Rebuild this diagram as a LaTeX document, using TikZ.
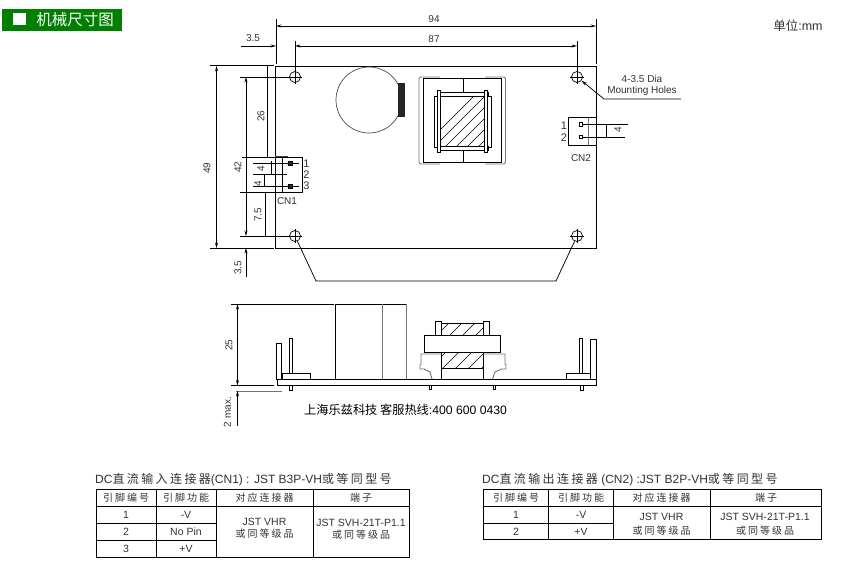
\documentclass[tikz,border=0pt]{standalone}
\usepackage{fontspec}
\setmainfont{Liberation Sans}
\newfontfamily\cn{Noto Sans CJK SC}
\newfontfamily\cnw[LetterSpace=20]{Noto Sans CJK SC}
\usetikzlibrary{arrows.meta, calc, positioning}
\definecolor{titlegreen}{RGB}{0,128,0}
\tikzset{
    part/.style={draw=black, line width=0.9pt},
    soft/.style={draw=black!55, line width=0.9pt},
    dimline/.style={draw=black, line width=0.75pt},
    dimarrow/.style={dimline, {Stealth[length=5.5pt,width=3pt]}-{Stealth[length=5.5pt,width=3pt]}},
    hole/.style={circle, draw=black, line width=0.7pt, minimum size=11pt, inner sep=0pt},
    pin/.style={draw=black, fill=black!85, line width=0.4pt, minimum size=4pt, inner sep=0pt},
    pinopen/.style={draw=black, fill=white, line width=0.8pt, minimum size=3.5pt, inner sep=0pt},
    txt/.style={inner sep=0pt, text=black!80, font=\fontsize{10}{10}\selectfont},
    pinno/.style={txt, font=\fontsize{11}{11}\selectfont},
    cell/.style={txt, font=\fontsize{10.5}{11}\selectfont},
    cellcn/.style={txt, font=\fontsize{10}{11}\cnw},
    caption/.style={txt, anchor=west, font=\fontsize{12}{12}\selectfont}
}
\begin{document}
\begin{tikzpicture}[x=1pt, y=-1pt]
    \useasboundingbox[fill=white] (0, 0) rectangle (846, 573);
    % heading
    \fill[titlegreen] (2, 9) rectangle (122, 31);
    \fill[white] (13, 13) rectangle (26, 25);
    \node[inner sep=0pt, text=white, font=\fontsize{15.5}{15}\cn] (head) at (75, 20) {机械尺寸图};
    \node[txt, font=\fontsize{12.5}{12}\selectfont] (unit) at (798, 26) {{\cn 单位}:mm};

    % top view
    \draw[part] (275, 66) rectangle (596, 248);
    \node[hole] (hTL) at (295, 77) {};
    \node[hole] (hTR) at (577, 77) {};
    \node[hole] (hBL) at (295, 236) {};
    \node[hole] (hBR) at (577, 236) {};
    \foreach \h in {hTL, hTR, hBL, hBR} {
        \draw[dimline] ($(\h)+(-7, 0)$) -- ($(\h)+(7, 0)$);
        \draw[dimline] ($(\h)+(0, -7)$) -- ($(\h)+(0, 7)$);
    }
    \draw[line width=0.7pt, draw=black!70] (369, 100) circle (33);
    \fill[black!85] (398, 83) rectangle (405, 117);

    % transformer, top
    \draw[soft, rounded corners=1.5pt] (440, 77) -- (419, 77) -- (419, 164) -- (440, 164);
    \draw[soft, rounded corners=1.5pt] (485, 77) -- (505.5, 77) -- (505.5, 164) -- (485, 164);
    \draw[part] (423, 78.5) rectangle (501, 162);
    \draw[part] (463, 78.5) -- (463, 92) (463, 150) -- (463, 162);
    \begin{scope}
        \clip (440, 96) rectangle (484.5, 146.5);
        \foreach \i in {0, 11, ..., 110}
            \draw[line width=0.45pt] (420+\i, 150) -- (420+\i+60, 90);
    \end{scope}
    \draw[part, fill=white] (434, 96) -- (440, 96) -- (440, 147) -- (434, 147) -- cycle;
    \draw[part, fill=white] (484.5, 96) -- (491, 96) -- (491, 147) -- (484.5, 147) -- cycle;
    \draw[part] (437, 92) rectangle (488, 96) (437, 146.5) rectangle (488, 150);
    \draw[part, fill=white] (437.5, 90) rectangle (440.5, 152);
    \draw[part, fill=white] (484.5, 90) rectangle (487.5, 152);

    % width dimensions
    \coordinate (w0) at (276, 19);
    \coordinate (w1) at (596, 19);
    \draw[dimline] (w0) -- (276, 64) (w1) -- (596, 64);
    \draw[dimline] (295, 41) -- (hTL.north) (577, 41) -- (hTR.north);
    \draw[dimarrow] (276, 26) -- (596, 26);
    \draw[dimarrow] (295, 46) -- (577, 46);
    \draw[dimline, -{Stealth[length=5.5pt,width=3pt]}] (241, 46) -- (276, 46);
    \node[txt] (d94) at (434, 19) {94};
    \node[txt] (d87) at (434, 39) {87};
    \node[txt] (d35t) at (253, 38.5) {3.5};

    % height dimensions
    \draw[dimline] (210, 65.5) -- (274, 65.5) (210, 248) -- (274, 248);
    \draw[dimline] (240, 77) -- (hTL.west) (240, 236) -- (hBL.west);
    \draw[dimarrow] (216.5, 66) -- (216.5, 248);
    \draw[dimarrow] (246, 77) -- (246, 236);
    \draw[dimline, {Stealth[length=5.5pt,width=3pt]}-] (246, 248) -- (246, 277);
    \draw[dimline] (267.5, 66) -- (267.5, 157);
    \node[txt, rotate=90] (d49) at (207, 168) {49};
    \node[txt, rotate=90] (d42) at (238, 167) {42};
    \node[txt, rotate=90] (d26) at (261, 116) {26};
    \node[txt, rotate=90] (d35b) at (238, 268) {3.5};

    % CN1
    \draw[dimline] (242, 157) -- (302, 157) -- (302, 192) -- (240, 192);
    \draw[line width=1.1pt, draw=black!75] (275, 156.5) -- (288, 156.5);
    \draw[dimline] (282.5, 157) -- (282.5, 192);
    \node[pin] (p1) at (290.5, 163) {};
    \node[pin] (p3) at (290.5, 186.5) {};
    \draw[dimline] (253, 163) -- (p1) (p1) -- (299, 163);
    \draw[dimline] (253, 174.5) -- (287, 174.5);
    \draw[dimline] (253, 186.5) -- (p3) (p3) -- (299, 186.5);
    \draw[dimline] (271, 161) -- (271, 174.5);
    \draw[dimline] (264.5, 174.5) -- (264.5, 186.5);
    \draw[dimline] (265.5, 192) -- (265.5, 236);
    \node[txt, rotate=90] (d4a) at (261, 169) {4};
    \node[txt, rotate=90] (d4b) at (258, 184) {4};
    \node[txt, rotate=90] (d75) at (258, 215) {7.5};
    \node[pinno] (cn1a) at (306.5, 164) {1};
    \node[pinno] (cn1b) at (306.5, 175) {2};
    \node[pinno] (cn1c) at (306.5, 186) {3};
    \node[txt] (cn1) at (287, 201) {CN1};

    % CN2
    \draw[dimline] (596, 117.5) -- (568, 117.5) -- (568, 145) -- (596, 145);
    \draw[soft] (588, 117.5) -- (588, 145);
    \node[pinopen] (q1) at (581, 124.5) {};
    \node[pinopen] (q2) at (581, 137) {};
    \draw[dimline] (q1) -- (628, 124.5) (q2) -- (625, 137);
    \draw[dimline] (606, 124.5) -- (606, 137);
    \node[txt, rotate=90] (d4c) at (618, 130) {4};
    \node[pinno] (cn2a) at (564, 126) {1};
    \node[pinno] (cn2b) at (564, 138) {2};
    \node[txt] (cn2) at (581, 158) {CN2};

    % leaders
    \coordinate (la) at (604, 99);
    \coordinate (lb) at (316, 281);
    \coordinate (lc) at (556, 281);
    \draw[dimline, -{Stealth[length=5.5pt,width=3pt]}] (681, 99) -- (la) -- (hTR);
    \draw[dimline] (hBL) -- (lb) -- (lc) -- (hBR);
    \node[txt] (m1) at (642, 79) {4-3.5 Dia};
    \node[txt] (m2) at (642, 91) {Mounting Holes};

    % side view
    \draw[part] (277, 379.5) rectangle (596.5, 385.5);
    \draw[part] (335, 379.5) -- (335, 304) -- (406, 304);
    \draw[soft] (382, 304) -- (382, 379) (406, 304) -- (406, 379);
    \draw[part] (276.5, 379.5) -- (276.5, 343) -- (281.5, 343) -- (281.5, 379.5);
    \draw[part] (282, 379.5) -- (282, 373.5) -- (310.5, 373.5) -- (310.5, 379.5);
    \draw[part] (289.5, 373.5) -- (289.5, 338) -- (292.5, 338) -- (292.5, 373.5);
    \draw[part] (289.5, 385.5) rectangle (292.5, 390.5);
    \draw[part] (590.5, 379.5) -- (590.5, 339.5) -- (596.5, 339.5) -- (596.5, 379.5);
    \draw[part] (590.5, 379.5) -- (590.5, 373.5) -- (566.5, 373.5) -- (566.5, 379.5);
    \draw[part] (579.5, 373.5) -- (579.5, 338.5) -- (582.5, 338.5) -- (582.5, 373.5);
    \draw[part] (580.5, 385.5) rectangle (583.5, 390.5);
    \draw[part] (429.5, 385.5) rectangle (431.5, 389.5);
    \draw[part] (493.5, 385.5) rectangle (495.5, 389.5);

    % transformer, side
    \begin{scope}
        \clip (441.5, 323.5) rectangle (483, 335.5) (441.5, 352.5) rectangle (483, 368.5);
        \foreach \i in {0, 13, ..., 130}
            \draw[line width=0.45pt] (400+\i, 372) -- (400+\i+60, 312);
    \end{scope}
    \draw[part] (441.5, 323.5) -- (483, 323.5) (441.5, 368.5) -- (483, 368.5);
    \draw[part] (435.5, 335.5) -- (435.5, 321) -- (441.5, 321) -- (441.5, 335.5);
    \draw[part] (483, 335.5) -- (483, 321) -- (489.5, 321) -- (489.5, 335.5);
    \draw[part] (424, 335.5) rectangle (500.5, 352.5);
    \draw[part] (441.5, 352.5) -- (441.5, 379) (483, 352.5) -- (483, 379);
    \draw[soft] (441.5, 354) -- (421, 354) -- (421, 364) -- (420, 365) -- (420, 369) -- (424, 369)
        -- (430, 372) -- (432, 379);
    \draw[soft] (483, 354) -- (505, 354) -- (505, 364) -- (506, 365) -- (506, 369) -- (501.5, 369)
        -- (495, 372) -- (492.5, 379);

    % side view dimensions
    \draw[dimline] (231, 304) -- (334, 304) (231, 385.5) -- (274, 385.5);
    \draw[dimarrow] (237.5, 304) -- (237.5, 385.5);
    \draw[soft] (236, 391) -- (282, 391);
    \draw[dimline, {Stealth[length=5.5pt,width=3pt]}-] (237.5, 391) -- (237.5, 426);
    \node[txt, rotate=90] (d25) at (229, 345) {25};
    \node[txt, rotate=90] (d2m) at (227.5, 412) {2 max.};
    \node[txt, anchor=west, text=black, font=\fontsize{12.2}{12}\selectfont] (hotline) at (304, 410)
        {{\cn 上海乐兹科技 客服热线}:400 600 0430};

    % CN1 table
    \node[caption] (capA) at (95, 480) {DC{\cnw 直流输入连接器}(CN1) : JST B3P-VH{\cnw 或等同型号}};
    \draw[part] (96, 489.5) rectangle (409, 557.5);
    \draw[part] (96, 506.5) -- (409, 506.5) (96, 523.5) -- (216, 523.5) (96, 540.5) -- (216, 540.5);
    \draw[part] (156.5, 489.5) -- (156.5, 557.5) (216, 489.5) -- (216, 557.5) (313, 489.5) -- (313, 557.5);
    \foreach \n/\x/\t in {a/126/引脚编号, b/186/引脚功能, c/264.5/对应连接器, d/361/端子}
        \node[cellcn] (head\n) at (\x, 498) {\t};
    \foreach \n/\y/\t/\f in {a/515/1/-V, b/532/2/No Pin, c/549/3/+V} {
        \node[cell] (no\n) at (126, \y) {\t};
        \node[cell] (fn\n) at (186, \y) {\f};
    }
    \node[cell] (jstA) at (264.5, 522) {JST VHR};
    \node[cellcn] (eqA) at (264.5, 534) {或同等级品};
    \node[cell] (svhA) at (361, 523) {JST SVH-21T-P1.1};
    \node[cellcn] (eqB) at (361, 535) {或同等级品};

    % CN2 table
    \node[caption] (capB) at (482, 480) {DC{\cnw 直流输出连接器} (CN2) :JST B2P-VH{\cnw 或等同型号}};
    \draw[part] (483, 489.5) rectangle (821.5, 539);
    \draw[part] (483, 506.5) -- (821.5, 506.5) (483, 523.5) -- (613, 523.5);
    \draw[part] (548.5, 489.5) -- (548.5, 540) (613, 489.5) -- (613, 539) (710, 489.5) -- (710, 539);
    \foreach \n/\x/\t in {a/516/引脚编号, b/581/引脚功能, c/661.5/对应连接器, d/766/端子}
        \node[cellcn] (hdr\n) at (\x, 498) {\t};
    \foreach \n/\y/\t/\f in {a/515/1/-V, b/532/2/+V} {
        \node[cell] (nr\n) at (516, \y) {\t};
        \node[cell] (fu\n) at (581, \y) {\f};
    }
    \node[cell] (jstB) at (661.5, 517) {JST VHR};
    \node[cellcn] (eqC) at (661.5, 531) {或同等级品};
    \node[cell] (svhB) at (765, 517) {JST SVH-21T-P1.1};
    \node[cellcn] (eqD) at (765, 531) {或同等级品};
\end{tikzpicture}
\end{document}
